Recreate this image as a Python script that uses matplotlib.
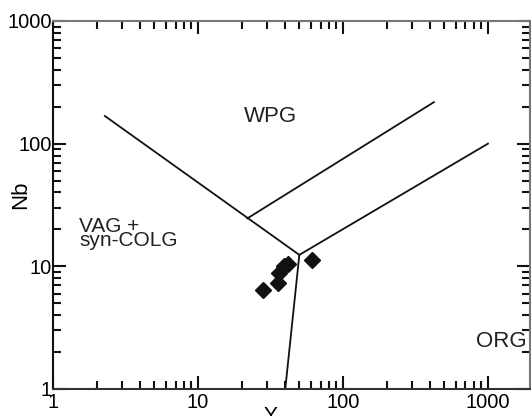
import numpy as np
import matplotlib.pyplot as plt
from matplotlib.ticker import LogLocator, NullFormatter, FixedFormatter, FixedLocator

plt.rcParams['font.family'] = ['Liberation Sans', 'DejaVu Sans']

# sample data (Y, Nb)
y_ppm = [28.2, 35.8, 36.0, 39.5, 42.0, 60.8]
nb_ppm = [6.4, 7.35, 8.9, 10.0, 10.5, 11.2]

# field boundaries
vag_wpg_x = [2.28, 50]
vag_wpg_y = [168, 12.4]
vag_org_x = [50, 40]
vag_org_y = [12.4, 1]
wpg_org_x = [50, 1000]
wpg_org_y = [12.4, 100]
wpg_inner_x = [21.9, 424]
wpg_inner_y = [24.6, 218]

ticks = [1, 10, 100, 1000]
tick_labels = ['1', '10', '100', '1000']

fig = plt.figure(figsize=(5.31, 4.16), dpi=100)
ax = fig.add_axes([53/531, 1-389/416, 477/531, 368/416])
ax.set_xscale('log')
ax.set_yscale('log')
ax.set_xlim(1, 1950)
ax.set_ylim(1, 1000)

for xs, ys in [(vag_wpg_x, vag_wpg_y), (vag_org_x, vag_org_y),
               (wpg_org_x, wpg_org_y), (wpg_inner_x, wpg_inner_y)]:
    ax.plot(xs, ys, color='#111111', lw=1.3)

ax.plot(y_ppm, nb_ppm, 'D', color='#111111', ms=8.5, mec='#111111')

ax.text(31.4, 165, 'WPG', fontsize=16, ha='center', va='center',
        color='#222222')
ax.text(1.51, 18.5, 'VAG +\nsyn-COLG', fontsize=15, ha='left',
        va='center', linespacing=0.72, color='#222222')
ax.text(1240, 2.45, 'ORG', fontsize=16, ha='center', va='center',
        color='#222222')

ax.xaxis.set_major_locator(FixedLocator(ticks))
ax.xaxis.set_major_formatter(FixedFormatter(tick_labels))
ax.yaxis.set_major_locator(FixedLocator(ticks))
ax.yaxis.set_major_formatter(FixedFormatter(tick_labels))
ax.xaxis.set_minor_locator(LogLocator(base=10, subs=np.arange(2, 10), numticks=10))
ax.yaxis.set_minor_locator(LogLocator(base=10, subs=np.arange(2, 10), numticks=10))
ax.xaxis.set_minor_formatter(NullFormatter())
ax.yaxis.set_minor_formatter(NullFormatter())

ax.tick_params(which='both', direction='in', top=True, right=True,
               width=1.5, color='#111111', labelsize=14.5)
ax.tick_params(which='major', length=9.5)
ax.tick_params(which='minor', length=5.5)
ax.tick_params(axis='y', pad=1)
ax.tick_params(axis='x', pad=3)

ax.spines['left'].set_color('#111111')
ax.spines['bottom'].set_color('#333333')
ax.spines['top'].set_color('#777777')
ax.spines['right'].set_color('#777777')
for s in ax.spines.values():
    s.set_linewidth(1.5)

# axis titles placed like the original (Y is partly cut off at the bottom)
fig.text(270/531, 1-406/416, 'Y', fontsize=15, ha='center', va='top')
fig.text(21/531, 1-195/416, 'Nb', fontsize=16, ha='center', va='center',
         rotation=90)

fig.savefig('out.png', dpi=100)
